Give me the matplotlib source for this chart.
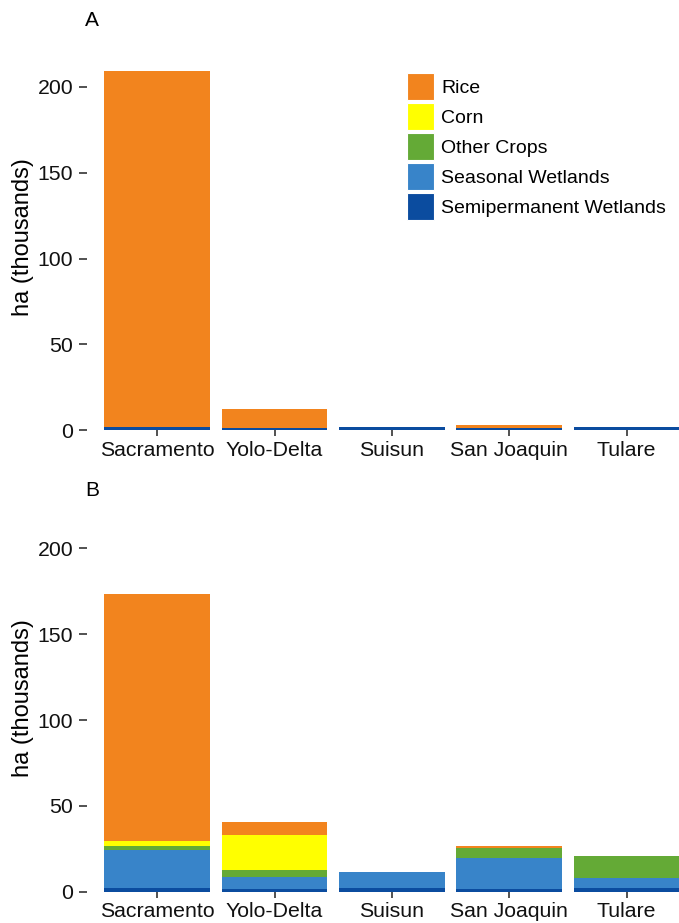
import matplotlib
matplotlib.use("Agg")
import matplotlib.pyplot as plt
from matplotlib.patches import Patch
import numpy as np

plt.rcParams['font.family'] = ['Liberation Sans', 'DejaVu Sans']

regions = ["Sacramento", "Yolo-Delta", "Suisun", "San Joaquin", "Tulare"]
classes = ["Rice", "Corn", "Other Crops", "Seasonal Wetlands", "Semipermanent Wetlands"]
colors = ["#F2841E", "#FFFF00", "#64AA36", "#3884C9", "#0B4C9F"]

# Panel A (values in thousands of ha)
a_rice = [207.1, 11.1, 0.0, 1.9, 0.0]
a_corn = [0.0, 0.0, 0.0, 0.0, 0.0]
a_other = [0.0, 0.0, 0.0, 0.0, 0.0]
a_seasonal = [0.0, 0.0, 0.0, 0.0, 0.0]
a_semiperm = [1.9, 1.2, 2.1, 1.3, 2.1]

# Panel B
b_rice = [143.7, 7.4, 0.0, 1.1, 0.0]
b_corn = [3.1, 20.5, 0.0, 0.0, 0.0]
b_other = [2.5, 4.1, 0.0, 5.7, 12.5]
b_seasonal = [21.8, 7.0, 9.1, 18.3, 6.0]
b_semiperm = [2.2, 1.6, 2.2, 1.4, 2.2]

yticks = [0, 50, 100, 150, 200]

W, H = 679, 923
fig = plt.figure(figsize=(W / 100, H / 100), dpi=100)
left = 86.9 / W
width = (697 - 86.9) / W
ytop = 218
px_per_unit = 1.717
hgt = ytop * px_per_unit / H
axA = fig.add_axes([left, 1 - 430.3 / H, width, hgt])
axB = fig.add_axes([left, 1 - 891.7 / H, width, hgt])

def draw(ax, series):
    x = np.arange(len(regions))
    bottom = np.zeros(len(regions))
    # stack bottom-up: semiperm, seasonal, other, corn, rice
    order = [4, 3, 2, 1, 0]
    for i in order:
        vals = np.array(series[i])
        ax.bar(x, vals, width=0.9, bottom=bottom, color=colors[i], linewidth=0)
        bottom += vals
    ax.set_xlim(-0.6, len(regions) - 0.4)
    ax.set_ylim(0, ytop)
    ax.set_xticks(x)
    ax.set_xticklabels(regions, fontsize=15.3, color='#111111')
    ax.set_yticks(yticks)
    ax.set_yticklabels([str(t) for t in yticks], fontsize=15.3, color='#111111')
    for s in ax.spines.values():
        s.set_visible(False)
    ax.tick_params(axis='x', length=4.4, width=1.2, color='#333333', pad=3)
    ax.tick_params(axis='y', length=5.5, width=1.2, color='#333333', pad=4.3)

draw(axA, [a_rice, a_corn, a_other, a_seasonal, a_semiperm])
draw(axB, [b_rice, b_corn, b_other, b_seasonal, b_semiperm])

fig.text(23 / W, 1 - 237 / H, "ha (thousands)", fontsize=17, rotation=90,
         ha='center', va='center')
fig.text(23 / W, 1 - 698.4 / H, "ha (thousands)", fontsize=17, rotation=90,
         ha='center', va='center')

fig.text(85 / W, 1 - 21 / H, "A", fontsize=15, va='center', ha='left')
fig.text(85 / W, 1 - 490 / H, "B", fontsize=15, va='center', ha='left')

handles = [Patch(facecolor=c, edgecolor='white', linewidth=0.8, label=l) for c, l in zip(colors, classes)]
axA.legend(handles=handles, loc='upper left', bbox_to_anchor=(407 / W, 1 - 73 / H),
           bbox_transform=fig.transFigure, frameon=False, fontsize=14,
           handlelength=1.39, handleheight=1.79, handletextpad=0.36, labelspacing=0.134,
           borderaxespad=0, borderpad=0)

fig.savefig("out.png", dpi=100)
